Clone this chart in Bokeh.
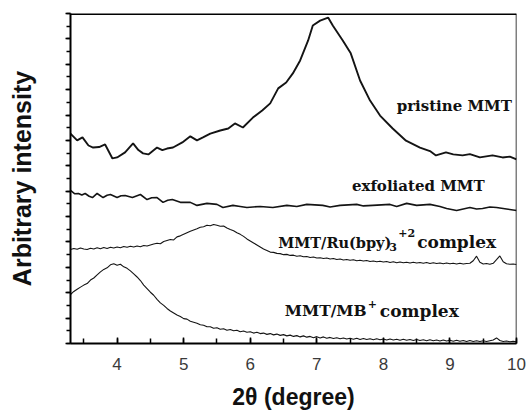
from bokeh.plotting import figure
from bokeh.models import Range1d, SingleIntervalTicker, Span, Label
from bokeh.embed import file_html
from bokeh.resources import INLINE

# ---- data ----
pristine_x = [3.30, 3.40, 3.48, 3.57, 3.64, 3.73, 3.82, 3.93, 4.00, 4.12, 4.24, 4.32, 4.39, 4.47,
              4.60, 4.68, 4.75, 4.84, 4.98, 5.10, 5.20, 5.29, 5.40, 5.55, 5.67, 5.77, 5.89, 6.04,
              6.18, 6.30, 6.42, 6.54, 6.64, 6.75, 6.87, 6.94, 7.05, 7.17, 7.24, 7.39, 7.51, 7.65,
              7.80, 7.95, 8.14, 8.34, 8.55, 8.70, 8.79, 8.94, 9.05, 9.19, 9.30, 9.45, 9.64, 9.79, 9.90, 10.0]
pristine_y = [8.27, 8.00, 8.12, 7.80, 7.72, 7.74, 7.84, 7.29, 7.33, 7.53, 7.88, 7.62, 7.49, 7.45,
              7.72, 7.62, 7.68, 7.72, 7.92, 8.16, 8.00, 8.12, 8.27, 8.39, 8.47, 8.67, 8.51, 8.90,
              9.18, 9.46, 10.05, 10.28, 10.64, 11.15, 11.94, 12.53, 12.72, 12.84, 12.53, 11.94, 11.43, 10.36,
              9.57, 8.98, 8.47, 7.99, 7.72, 7.58, 7.41, 7.53, 7.45, 7.41, 7.46, 7.33, 7.41, 7.33, 7.36, 7.25]

exfol_x = [3.30, 3.36, 3.42, 3.47, 3.52, 3.58, 3.63, 3.70, 3.79, 3.85, 3.90, 4.00, 4.06, 4.12, 4.23,
           4.35, 4.45, 4.52, 4.60, 4.69, 4.76, 4.83, 4.95, 5.10, 5.20, 5.35, 5.50, 5.59, 5.74, 5.85,
           5.95, 6.15, 6.34, 6.55, 6.70, 6.85, 7.09, 7.20, 7.35, 7.60, 7.70, 7.84, 8.10, 8.20, 8.35,
           8.50, 8.70, 8.85, 8.95, 9.10, 9.30, 9.40, 9.49, 9.60, 9.70, 9.85, 10.0]
exfol_y = [6.03, 5.90, 5.91, 5.85, 5.91, 5.80, 5.75, 5.91, 5.75, 5.84, 5.87, 5.75, 5.82, 5.83, 5.75,
           5.87, 5.67, 5.74, 5.75, 5.56, 5.64, 5.67, 5.56, 5.56, 5.44, 5.52, 5.48, 5.36, 5.44, 5.40,
           5.36, 5.40, 5.36, 5.44, 5.40, 5.48, 5.44, 5.38, 5.44, 5.48, 5.42, 5.44, 5.48, 5.40, 5.52,
           5.44, 5.48, 5.40, 5.32, 5.24, 5.36, 5.30, 5.32, 5.38, 5.36, 5.30, 5.24]

theta2 = [3.30, 3.35, 3.40, 3.45, 3.50, 3.55, 3.60, 3.65, 3.70, 3.75, 3.80, 3.85, 3.90, 3.95,
          4.00, 4.05, 4.10, 4.15, 4.20, 4.25, 4.30, 4.35, 4.40, 4.45, 4.50, 4.55, 4.60, 4.65,
          4.70, 4.75, 4.80, 4.85, 4.90, 4.95, 5.00, 5.05, 5.10, 5.15, 5.20, 5.25, 5.30, 5.35,
          5.40, 5.45, 5.50, 5.55, 5.60, 5.65, 5.70, 5.75, 5.80, 5.85, 5.90, 5.95, 6.00, 6.05,
          6.10, 6.15, 6.20, 6.25, 6.30, 6.35, 6.40, 6.45, 6.50, 6.55, 6.60, 6.65, 6.70, 6.75,
          6.80, 6.85, 6.90, 6.95, 7.00, 7.05, 7.10, 7.15, 7.20, 7.25, 7.30, 7.35, 7.40, 7.45,
          7.50, 7.55, 7.60, 7.65, 7.70, 7.75, 7.80, 7.85, 7.90, 7.95, 8.00, 8.05, 8.10, 8.15,
          8.20, 8.25, 8.30, 8.35, 8.40, 8.45, 8.50, 8.55, 8.60, 8.65, 8.70, 8.75, 8.80, 8.85,
          8.90, 8.95, 9.00, 9.05, 9.10, 9.15, 9.20, 9.25, 9.30, 9.35, 9.40, 9.45, 9.50, 9.55,
          9.60, 9.65, 9.70, 9.75, 9.80, 9.85, 9.90, 9.95, 10.00]

ru_y = [3.70, 3.74, 3.71, 3.76, 3.72, 3.70, 3.75, 3.72, 3.77, 3.73, 3.78, 3.74, 3.79, 3.76,
        3.80, 3.77, 3.82, 3.79, 3.83, 3.80, 3.84, 3.81, 3.86, 3.84, 3.88, 3.92, 3.95, 3.93,
        4.02, 4.06, 4.10, 4.08, 4.20, 4.24, 4.30, 4.36, 4.42, 4.47, 4.52, 4.58, 4.60, 4.66,
        4.64, 4.69, 4.66, 4.62, 4.63, 4.55, 4.49, 4.44, 4.36, 4.30, 4.22, 4.12, 4.04, 3.96,
        3.88, 3.80, 3.72, 3.66, 3.60, 3.59, 3.55, 3.54, 3.50, 3.51, 3.47, 3.48, 3.44, 3.46,
        3.42, 3.43, 3.39, 3.41, 3.37, 3.38, 3.35, 3.37, 3.33, 3.35, 3.31, 3.33, 3.29, 3.31,
        3.28, 3.30, 3.26, 3.28, 3.25, 3.27, 3.23, 3.25, 3.22, 3.24, 3.21, 3.23, 3.19, 3.22,
        3.18, 3.21, 3.18, 3.20, 3.17, 3.20, 3.17, 3.19, 3.16, 3.19, 3.15, 3.18, 3.15, 3.17,
        3.14, 3.17, 3.14, 3.16, 3.13, 3.16, 3.13, 3.15, 3.16, 3.26, 3.44, 3.20, 3.13, 3.15,
        3.12, 3.16, 3.30, 3.45, 3.22, 3.14, 3.12, 3.13, 3.11]

mb_y = [1.93, 2.05, 2.14, 2.22, 2.30, 2.36, 2.50, 2.58, 2.70, 2.82, 2.92, 2.98, 3.10, 3.14,
        3.08, 3.12, 3.02, 2.96, 2.86, 2.74, 2.62, 2.48, 2.30, 2.16, 2.02, 1.90, 1.74, 1.60,
        1.50, 1.38, 1.28, 1.20, 1.12, 1.06, 0.98, 0.96, 0.88, 0.84, 0.80, 0.74, 0.72, 0.66,
        0.66, 0.60, 0.62, 0.56, 0.58, 0.52, 0.55, 0.50, 0.52, 0.46, 0.49, 0.44, 0.46, 0.41,
        0.44, 0.39, 0.41, 0.36, 0.39, 0.34, 0.37, 0.32, 0.35, 0.30, 0.33, 0.28, 0.31, 0.26,
        0.30, 0.25, 0.28, 0.23, 0.27, 0.22, 0.26, 0.21, 0.24, 0.20, 0.23, 0.19, 0.22, 0.18,
        0.21, 0.17, 0.21, 0.16, 0.20, 0.16, 0.19, 0.15, 0.19, 0.15, 0.18, 0.14, 0.18, 0.14,
        0.17, 0.13, 0.17, 0.13, 0.16, 0.12, 0.16, 0.12, 0.15, 0.11, 0.15, 0.11, 0.14, 0.10,
        0.14, 0.10, 0.13, 0.09, 0.13, 0.09, 0.12, 0.08, 0.12, 0.08, 0.11, 0.08, 0.11, 0.08,
        0.11, 0.14, 0.22, 0.12, 0.08, 0.10, 0.07, 0.09, 0.07]

x_label = "2θ (degree)"
y_label = "Arbitrary intensity"

# ---- figure ----
p = figure(width=526, height=412, output_backend="svg", toolbar_location=None,
           x_range=Range1d(3.3, 10.0), y_range=Range1d(0, 13),
           min_border_left=70, min_border_right=10, min_border_top=13, min_border_bottom=69)
p.grid.visible = False
p.outline_line_color = None
p.background_fill_color = "white"
p.border_fill_color = "white"

ink = "#141414"
p.line(pristine_x, pristine_y, line_color=ink, line_width=1.9)
p.line(exfol_x, exfol_y, line_color=ink, line_width=1.6)
p.line(theta2, ru_y, line_color=ink, line_width=1.1)
p.line(theta2, mb_y, line_color=ink, line_width=1.1)

# x axis
xa = p.xaxis[0]
xa.ticker = SingleIntervalTicker(interval=1, num_minor_ticks=2)
xa.major_tick_in = 6
xa.major_tick_out = 0
xa.minor_tick_in = 5
xa.minor_tick_out = 0
xa.axis_line_width = 2
xa.major_tick_line_width = 1.5
xa.minor_tick_line_width = 1.5
xa.major_label_text_font = "Liberation Sans"
xa.major_label_text_font_size = "17px"
xa.major_label_text_color = "#3a3a3a"
xa.major_label_standoff = 14
xa.axis_label = x_label
xa.axis_label_text_font = "Liberation Sans"
xa.axis_label_text_font_style = "bold"
xa.axis_label_text_font_size = "23px"
xa.axis_label_text_color = "#111111"
xa.axis_label_standoff = 11

# y axis
ya = p.yaxis[0]
ya.ticker = SingleIntervalTicker(interval=1, num_minor_ticks=2)
ya.major_tick_in = 0
ya.major_tick_out = 5
ya.minor_tick_in = 0
ya.minor_tick_out = 4
ya.axis_line_width = 2
ya.major_tick_line_width = 1.5
ya.minor_tick_line_width = 1.5
ya.major_label_text_font_size = "0px"
ya.major_label_standoff = 0
ya.axis_label = y_label
ya.axis_label_text_font = "Liberation Sans"
ya.axis_label_text_font_style = "bold"
ya.axis_label_text_font_size = "25px"
ya.axis_label_text_color = "#111111"
ya.axis_label_standoff = 30

# frame borders (top thick, right thin)
p.add_layout(Span(location=13, dimension="width", line_color="black", line_width=3))
p.add_layout(Span(location=10, dimension="height", line_color="black", line_width=1.5))

# curve labels
sf = "DejaVu Serif"
def lab(x, y, t, size="15px", align="left", xo=0, yo=0):
    p.add_layout(Label(x=x, y=y, text=t, text_font=sf, text_font_style="bold",
                       text_font_size=size, text_align=align, text_baseline="alphabetic",
                       text_color="#111111", x_offset=xo, y_offset=yo))

lab(9.93, 9.34, "pristine MMT", align="right")
lab(9.52, 6.19, "exfoliated MMT", align="right")
lab(6.42, 3.98, "MMT/Ru(bpy)", size="14.5px")
lab(6.42, 3.98, "3", size="11px", xo=111, yo=-5)
lab(6.42, 3.98, "+2", size="11px", xo=120, yo=9)
lab(6.42, 3.98, "complex", size="17px", xo=139)
lab(6.52, 1.30, "MMT/MB", size="15.5px")
lab(6.52, 1.30, "+", size="11px", xo=83, yo=7)
lab(6.52, 1.30, "complex", size="17px", xo=95)

open("out.html", "w").write(file_html(p, INLINE))
